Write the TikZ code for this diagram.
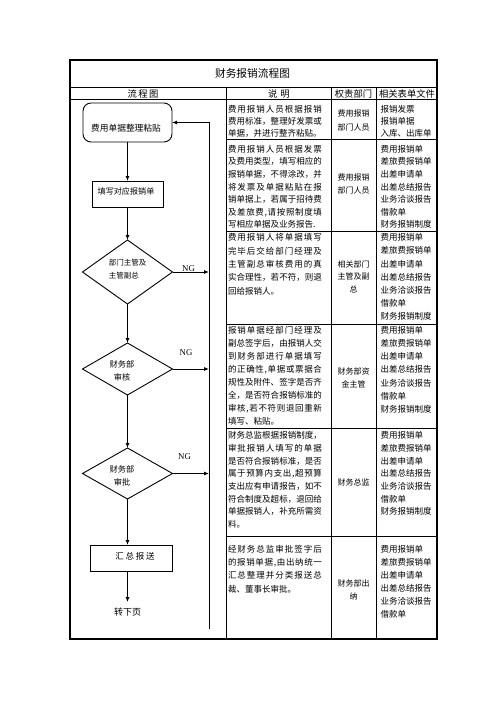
\documentclass[tikz,border=0pt]{standalone}
\usepackage{fontspec}
\setmainfont{Liberation Serif}
\newfontfamily\cjk{Noto Sans CJK SC}
\usetikzlibrary{shapes.geometric,arrows.meta}
\def\jlA#1{#1\jlB}
\def\jlB#1{\ifx\relax#1\else\hfil#1\expandafter\jlB\fi}
\newcommand\JL[1]{\noindent\hbox to\linewidth{\jlA#1\relax}\par}
\newcommand\LL[1]{\noindent#1\par}
\newcommand\cellp[4]{\parbox[t]{#1}{\cjk\fontsize{#2}{#3}\selectfont#4}}
\newcommand\forms{\LL{费用报销单}\LL{差旅费报销单}\LL{出差申请单}\LL{出差总结报告}\LL{业务洽谈报告}\LL{借款单}}
\begin{document}
\begin{tikzpicture}[x=1pt,y=-1pt,line join=miter,
  tline/.style={line width=0.8pt},
  oline/.style={line width=1.2pt},
  fbox/.style={draw,line width=0.9pt,inner sep=0pt,outer sep=0pt},
  dia/.style={fbox,diamond,minimum width=90pt},
  lbl/.style={font=\cjk\fontsize{8.5}{13}\selectfont,inner sep=0pt,align=center},
  arr/.style={line width=0.9pt,-{Latex[length=5pt,width=4pt]}},
  txt/.style={anchor=base west,inner sep=0pt,outer sep=0pt},
  hd/.style={font=\cjk\fontsize{9.3}{11}\selectfont,inner sep=0pt},
  ng/.style={font=\fontsize{8.8}{10}\selectfont,inner sep=0pt}]
\fill[white] (0,0) rectangle (496,702);
\useasboundingbox (0,0) rectangle (496,702);
% table
\draw[oline] (70,60) rectangle (437,639);
\draw[tline] (70,87) -- (437,87);
\draw[tline] (70,99) -- (437,99);
\foreach \xx in {226,331,376} \draw[tline] (\xx,87) -- (\xx,639);
\foreach \yy in {139,231,324,428,536} \draw[tline] (226,\yy) -- (437,\yy);
% title and headers
\node[font=\cjk\fontsize{10.7}{12}\selectfont,inner sep=0pt] (title) at (252.5,73.5) {财务报销流程图};
\node[hd] (h1) at (143,93.5) {流\hspace{1.5pt}程\hspace{1.5pt}图};
\node[hd] (h2) at (279,93.5) {说\hspace{3pt}明};
\node[hd] (h3) at (353.5,93.5) {权责部门};
\node[hd] (h4) at (407,93.5) {相关表单文件};
% description column
\node[txt] (s1) at (228,112.7) {\cellp{94pt}{8.5}{11.8}{\JL{费用报销人员根据报销}\JL{费用标准，整理好发票或}\LL{单据，并进行整齐粘贴。}}};
\node[txt] (s2) at (228,152.2) {\cellp{94pt}{8.5}{12.6}{\JL{费用报销人员根据发票}\JL{及费用类型，填写相应的}\JL{报销单据，不得涂改，并}\JL{将发票及单据粘贴在报}\JL{销单据上，若属于招待费}\JL{及差旅费,请按照制度填}\LL{写相应单据及业务报告.}}};
\node[txt] (s3) at (228,240.7) {\cellp{94pt}{8.5}{13.4}{\JL{费用报销人将单据填写}\JL{完毕后交给部门经理及}\JL{主管副总审核费用的真}\JL{实合理性，若不符，则退}\LL{回给报销人。}}};
\node[txt] (s4) at (228,333.2) {\cellp{94pt}{8.5}{13.1}{\JL{报销单据经部门经理及}\JL{副总签字后，由报销人交}\JL{到财务部进行单据填写}\JL{的正确性,单据或票据合}\JL{规性及附件、签字是否齐}\JL{全，是否符合报销标准的}\JL{审核,若不符则退回重新}\LL{填写、粘贴。}}};
\node[txt] (s5) at (228,438.7) {\cellp{94pt}{8.5}{12.7}{\JL{财务总监根据报销制度，}\JL{审批报销人填写的单据}\JL{是否符合报销标准，是否}\JL{属于预算内支出,超预算}\JL{支出应有申请报告，如不}\JL{符合制度及超标，退回给}\JL{单据报销人，补充所需资}\LL{料。}}};
\node[txt] (s6) at (228,552.2) {\cellp{94pt}{8.5}{13.3}{\JL{经财务总监审批签字后}\JL{的报销单据,由出纳统一}\JL{汇总整理并分类报送总}\LL{裁、董事长审批。}}};
% department column
\node[txt] (p1) at (331,116) {\cellp{45pt}{8}{14}{\centering\LL{费用报销}\LL{部门人员}}};
\node[txt] (p2) at (331,180.5) {\cellp{45pt}{8}{13}{\centering\LL{费用报销}\LL{部门人员}}};
\node[txt] (p3) at (331,267) {\cellp{45pt}{8}{12.5}{\centering\LL{相关部门}\LL{主管及副}\LL{总}}};
\node[txt] (p4) at (331,374.5) {\cellp{45pt}{8}{13}{\centering\LL{财务部资}\LL{金主管}}};
\node[txt] (p5) at (331,485) {\cellp{45pt}{8}{13}{\centering\LL{财务总监}}};
\node[txt] (p6) at (331,586.5) {\cellp{45pt}{8}{13}{\centering\LL{财务部出}\LL{纳}}};
% forms column
\node[txt] (f1) at (380.5,112.7) {\cellp{58pt}{8.5}{11.8}{\LL{报销发票}\LL{报销单据}\LL{入库、出库单}}};
\node[txt] (f2) at (380.5,152.2) {\cellp{58pt}{8.5}{12.6}{\forms\LL{财务报销制度}}};
\node[txt] (f3) at (380.5,240.7) {\cellp{58pt}{8.5}{13.2}{\forms\LL{财务报销制度}}};
\node[txt] (f4) at (380.5,333.2) {\cellp{58pt}{8.5}{13.2}{\forms\LL{财务报销制度}}};
\node[txt] (f5) at (380.5,438.7) {\cellp{58pt}{8.5}{12.7}{\forms\LL{财务报销制度}}};
\node[txt] (f6) at (380.5,552.2) {\cellp{58pt}{8.5}{13}{\forms}};
% flowchart
\node[fbox,rounded corners=8pt,minimum width=89pt,minimum height=39pt,
  label={[lbl,font=\cjk\fontsize{8.7}{13}\selectfont,xshift=-1.5pt,yshift=-5.5pt]center:费用单据整理粘贴}] (n1) at (127.5,122.5) {};
\node[fbox,minimum width=71pt,minimum height=26pt,
  label={[lbl,font=\cjk\fontsize{8.1}{13}\selectfont,xshift=-1.5pt,yshift=2.3pt]center:填写对应报销单}] (n2) at (127.5,194) {};
\node[dia,minimum height=64pt,
  label={[lbl,align=left,font=\cjk\fontsize{7.5}{13}\selectfont,yshift=2.5pt]center:部门主管及\\主管副总}] (d1) at (127.5,272) {};
\node[dia,minimum height=52pt,
  label={[lbl,font=\cjk\fontsize{8.2}{13}\selectfont,xshift=-5.5pt,yshift=-1.5pt]center:财务部\\审核}] (d2) at (127.5,369) {};
\node[dia,minimum height=51pt,
  label={[lbl,font=\cjk\fontsize{8.2}{13}\selectfont,xshift=-5.5pt,yshift=-2pt]center:财务部\\审批}] (d3) at (127.5,473.5) {};
\node[fbox,minimum width=82pt,minimum height=26pt,
  label={[lbl,xshift=4pt,yshift=2pt]center:汇\hspace{1.8pt}总\hspace{1.8pt}报\hspace{1.8pt}送}] (n3) at (131,558) {};
\node[font=\cjk\fontsize{9}{11}\selectfont,inner xsep=0pt,inner ysep=5.8pt,outer sep=0pt] (n4) at (127.5,612) {转下页};
\coordinate (fb) at (209,629);
\draw[arr] (n1.south) -- (n1.south |- n2.north);
\draw[arr] (n2.south) -- (d1.north);
\draw[arr] (d1.south) -- (d2.north);
\draw[arr] (d2.south) -- (d3.north);
\draw[arr] (d3.south) -- (d3.south |- n3.north);
\draw[arr] (d3.south |- n3.south) -- (n4.north);
\draw[arr] (fb) -- (fb |- n1.east) -- (n1.east);
\draw[arr] (d1.east) -- (d1.east -| fb);
\draw[arr] (d2.east) -- (d2.east -| fb);
\draw[arr] (d3.east) -- (d3.east -| fb);
\node[ng] (ng1) at (188.5,268.3) {NG};
\node[ng] (ng2) at (186,353) {NG};
\node[ng] (ng3) at (184.5,457) {NG};
\end{tikzpicture}
\end{document}
